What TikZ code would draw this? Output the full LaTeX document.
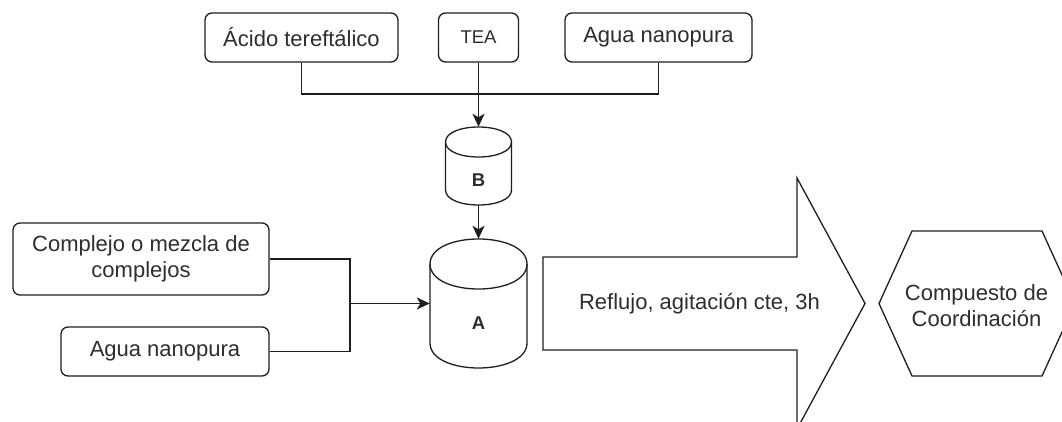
\documentclass[tikz,border=0pt]{standalone}
\usepackage{fontspec}
\setmainfont{Liberation Sans}
\usetikzlibrary{arrows.meta,calc}
\definecolor{linec}{RGB}{30,30,30}
\definecolor{textc}{RGB}{45,45,45}
\newcommand\mainfs{\fontsize{22}{26}\selectfont}
\newcommand\teafs{\fontsize{18.5}{22}\selectfont}
\newcommand\cylfs{\fontsize{18.5}{22}\selectfont\bfseries}
\begin{document}
\begin{tikzpicture}[x=1pt,y=-1pt,
  box/.style={draw=linec, line width=1.3pt, rounded corners=7pt, inner sep=0pt,
    font=\mainfs, text=textc, align=center},
  txt/.style={inner sep=0pt, font=\mainfs, text=textc, align=center},
  conn/.style={draw=linec, line width=1.3pt},
  arr/.style={conn, -{Stealth[length=13pt,width=12pt,inset=3.5pt]}},
  shp/.style={draw=linec, line width=1.3pt, line join=miter},
  anchorbox/.style={inner sep=0pt, draw=none}]
\useasboundingbox (0,0) rectangle (1062,422);
\begin{scope}
\clip (0,0) rectangle (1062,422);
% top boxes
\node[box, minimum width=193pt, minimum height=49pt] (acido) at (301.5,37.5) {Ácido tereftálico};
\node[box, minimum width=80pt, minimum height=49pt, font=\teafs] (tea) at (478.5,37.5) {TEA};
\node[box, minimum width=187pt, minimum height=49pt] (agua1) at (658.5,37.5) {Agua nanopura};
% left boxes
\node[box, minimum width=256pt, minimum height=72pt] (complejo) at (141,259) {Complejo o mezcla de\\complejos};
\node[box, minimum width=208pt, minimum height=49pt] (agua2) at (165,351.5) {Agua nanopura};
% cylinder B
\node[anchorbox, minimum width=66pt, minimum height=78pt] (B) at (478.5,166) {};
\draw[shp] (445.5,142) .. controls (445.5,122) and (511.5,122) .. (511.5,142)
  -- (511.5,190) .. controls (511.5,210) and (445.5,210) .. (445.5,190) -- cycle;
\draw[shp] (445.5,142) .. controls (445.5,162) and (511.5,162) .. (511.5,142);
\node[txt, font=\cylfs] (Blab) at (478.5,180) {B};
% cylinder A
\node[anchorbox, minimum width=97pt, minimum height=129pt] (A) at (478.5,303.5) {};
\draw[shp] (430,264) .. controls (430,230.67) and (527,230.67) .. (527,264)
  -- (527,343) .. controls (527,376.33) and (430,376.33) .. (430,343) -- cycle;
\draw[shp] (430,264) .. controls (430,297.33) and (527,297.33) .. (527,264);
\node[txt, font=\cylfs] (Alab) at (478.5,323) {A};
% connectors
\coordinate (joinT) at (478.5,94);
\draw[conn] (acido.south) |- (joinT);
\draw[conn] (agua1.south) |- (joinT);
\draw[arr] (tea.south) -- (B.north);
\draw[arr] (B.south) -- (A.north);
\coordinate (joinL) at (350,303.5);
\draw[conn] (complejo.east) -| (joinL);
\draw[conn] (agua2.east) -| (joinL);
\draw[arr] (joinL) -- (A.west);
% big process arrow
\draw[shp] (543,257) -- (797,257) -- (797,178) -- (865,303.5) -- (797,429) -- (797,350) -- (543,350) -- cycle;
\node[txt] (proc) at (699.5,303.5) {Reflujo, agitación cte, 3h};
% hexagon
\draw[shp] (879,303.5) -- (912,231) -- (1042,231) -- (1075,303.5) -- (1042,376) -- (912,376) -- cycle;
\node[txt] (prod) at (976.5,305.5) {Compuesto de\\Coordinación};
\end{scope}
\end{tikzpicture}
\end{document}
